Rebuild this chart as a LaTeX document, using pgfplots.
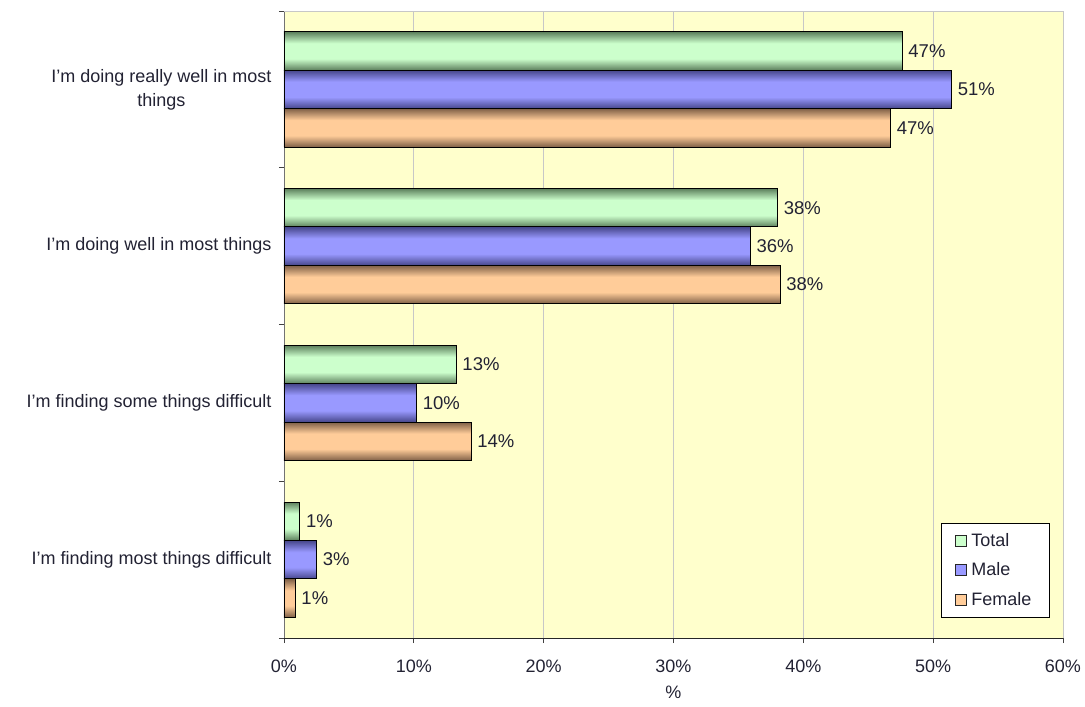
\documentclass[border=0pt]{standalone}
\usepackage{pgfplots}
\usepackage{pgfplotstable}
\pgfplotsset{compat=1.18}
\usepackage{fontspec}
\setmainfont{Liberation Sans}
\definecolor{bgy}{HTML}{FFFFCC}
\definecolor{gL}{HTML}{CCFFCC}
\definecolor{gE}{HTML}{5C7F5C}
\definecolor{bL}{HTML}{9999FF}
\definecolor{bE}{HTML}{46468A}
\definecolor{oL}{HTML}{FFCC99}
\definecolor{oE}{HTML}{7F6047}
\definecolor{txt}{HTML}{222233}
\pgfdeclareverticalshading{gsh}{100bp}{color(0bp)=(gE); color(25bp)=(gE); color(40bp)=(gL); color(60bp)=(gL); color(75bp)=(gE); color(100bp)=(gE)}
\pgfdeclareverticalshading{bsh}{100bp}{color(0bp)=(bE); color(25bp)=(bE); color(40bp)=(bL); color(60bp)=(bL); color(75bp)=(bE); color(100bp)=(bE)}
\pgfdeclareverticalshading{osh}{100bp}{color(0bp)=(oE); color(25bp)=(oE); color(40bp)=(oL); color(60bp)=(oL); color(75bp)=(oE); color(100bp)=(oE)}
\pgfplotstableread{
y x lab
3 47.6 47
2 38.0 38
1 13.25 13
0 1.2 1
}\totaltab
\pgfplotstableread{
y x lab
3 51.4 51
2 35.9 36
1 10.2 10
0 2.5 3
}\maletab
\pgfplotstableread{
y x lab
3 46.7 47
2 38.2 38
1 14.4 14
0 0.85 1
}\femaletab
% one shaded bar: #1 table, #2 shading, #3 bar shift, #4 domain low, #5 domain high
\newcommand\onebar[5]{%
  \addplot[forget plot, draw=black, line width=0.9pt, shade, shading=#2, bar shift=#3,
    restrict y to domain=#4:#5] table[x=x, y=y, meta=lab] {#1};}
\newcommand\series[3]{%
  \onebar{#1}{#2}{#3}{2.5}{3.5}%
  \onebar{#1}{#2}{#3}{1.5}{2.5}%
  \onebar{#1}{#2}{#3}{0.5}{1.5}%
  \onebar{#1}{#2}{#3}{-0.5}{0.5}}
\begin{document}
\begin{tikzpicture}
\path[use as bounding box] (-284pt,-69pt) rectangle (801pt,638pt);
\begin{axis}[
  at={(0,0)}, anchor=south west,
  scale only axis, width=779pt, height=627pt,
  xbar, bar width=0.245,
  xmin=0, xmax=60, ymin=-0.5, ymax=3.5,
  axis background/.style={fill=bgy},
  axis lines*=left,
  axis line style={-},
  x axis line style={-, black!85, line width=0.8pt},
  y axis line style={-, black!55, line width=0.8pt},
  xtick={0,10,...,60},
  xticklabel={\pgfmathprintnumber{\tick}\%},
  /pgf/number format/assume math mode=true,
  xmajorgrids, grid style={black!22, line width=0.7pt},
  ytick={-0.5,0.5,1.5,2.5,3.5}, yticklabels={},
  extra y ticks={0,1,2,3},
  extra y tick labels={{I’m finding most things difficult},{I’m finding some things difficult},{I’m doing well in most things},{I’m doing really well in most\\things}},
  extra y tick style={major tick length=0pt, yticklabel style={align=center, xshift=-9pt, font=\fontsize{18}{24}\selectfont}},
  tick align=outside, major tick length=5pt,
  tick style={black!75, line width=0.8pt},
  tick label style={font=\fontsize{18}{21}\selectfont, text=txt},
  xticklabel style={yshift=-13pt},
  xlabel={\%}, xlabel style={font=\fontsize{18}{21}\selectfont, text=txt, yshift=-7pt},
  point meta=explicit,
  nodes near coords={\pgfmathprintnumber[fixed,precision=0]{\pgfplotspointmeta}\%},
  nodes near coords align={horizontal},
  every node near coord/.append style={font=\fontsize{18.5}{21}\selectfont, text=txt, anchor=west, inner xsep=6pt},
  legend cell align=left,
  legend style={at={(0.983,0.033)}, anchor=south east, draw=black, fill=white, line width=0.8pt,
    font=\fontsize{18}{21}\selectfont, text=txt, row sep=15pt, inner xsep=13pt, inner ysep=10pt,
    nodes={inner xsep=5pt, inner ysep=0pt}},
]
\addlegendimage{legend image code/.code={\draw[draw=black!85, line width=0.6pt, fill=gL] (0pt,-5.5pt) rectangle (11pt,5.5pt);}}
\addlegendentry{Total}
\addlegendimage{legend image code/.code={\draw[draw=black!85, line width=0.6pt, fill=bL] (0pt,-5.5pt) rectangle (11pt,5.5pt);}}
\addlegendentry{Male}
\addlegendimage{legend image code/.code={\draw[draw=black!85, line width=0.6pt, fill=oL] (0pt,-5.5pt) rectangle (11pt,5.5pt);}}
\addlegendentry{Female}
\series{\totaltab}{gsh}{0.245}
\series{\maletab}{bsh}{0}
\series{\femaletab}{osh}{-0.245}
\draw[black!22, line width=0.7pt] (axis description cs:0,1) -- (axis description cs:1,1);
\end{axis}
\end{tikzpicture}
\end{document}
